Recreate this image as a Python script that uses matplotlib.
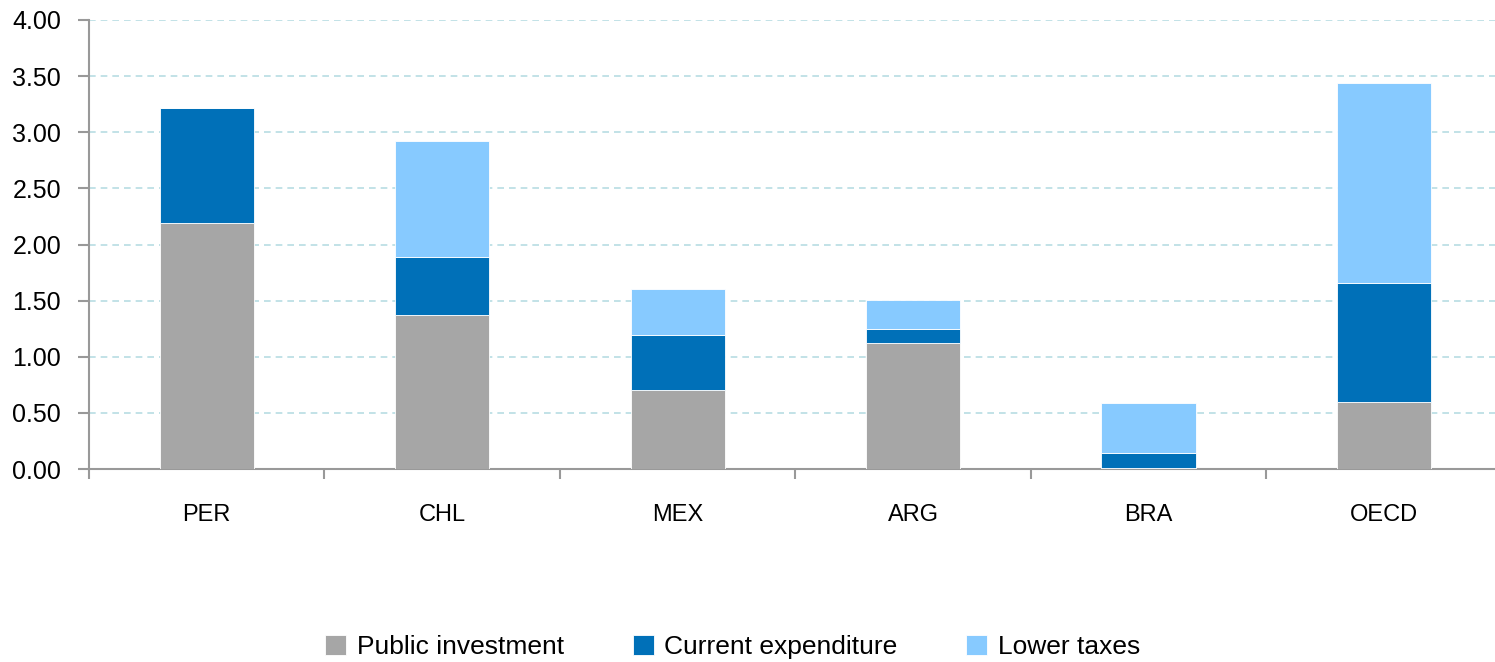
import numpy as np
import matplotlib.pyplot as plt
from matplotlib.ticker import MultipleLocator, FixedLocator

# =========================================================
# DATA
# =========================================================

countries = ["PER", "CHL", "MEX", "ARG", "BRA", "OECD"]
public_investment = [2.19, 1.37, 0.70, 1.12, 0.01, 0.60]
current_expenditure = [1.03, 0.52, 0.49, 0.13, 0.13, 1.06]
lower_taxes = [0.00, 1.03, 0.41, 0.26, 0.45, 1.78]

series_names = ["Public investment", "Current expenditure", "Lower taxes"]
colors = ["#a6a6a6", "#0070b8", "#87caff"]

# =========================================================
# FIGURE
# =========================================================

plt.rcParams["font.family"] = ["Liberation Sans", "DejaVu Sans"]

fig = plt.figure(figsize=(14.95, 6.62), dpi=100)
ax = fig.add_axes([0.0595, 0.2915, 0.945, 0.6783])

x = np.arange(len(countries))
bottom = np.zeros(len(countries))
for name, vals, col in zip(series_names,
                           [public_investment, current_expenditure, lower_taxes],
                           colors):
    ax.bar(x, vals, width=0.4, bottom=bottom, color=col, label=name,
           edgecolor="white", linewidth=0.6, zorder=3)
    bottom += np.array(vals)

ax.set_xlim(-0.5, len(countries) - 0.5)
ax.set_ylim(0, 4)
ax.yaxis.set_major_locator(MultipleLocator(0.5))
ax.yaxis.set_major_formatter(lambda v, p: f"{v:.2f}")
ax.grid(axis="y", color="#b7dde3", linestyle=(0, (4, 3)), linewidth=1.2, zorder=0)

ax.set_xticks(x)
ax.set_xticklabels(countries, fontsize=17)
ax.tick_params(axis="x", which="major", length=0, pad=25)
ax.xaxis.set_minor_locator(FixedLocator(np.arange(-0.5, len(countries), 1.0)))
ax.tick_params(axis="x", which="minor", length=7, color="#999999", width=1.5)
ax.tick_params(axis="y", labelsize=18, length=8, color="#999999", width=1.5, pad=12)

for s in ["top", "right"]:
    ax.spines[s].set_visible(False)
for s in ["left", "bottom"]:
    ax.spines[s].set_color("#999999")
    ax.spines[s].set_linewidth(1.5)

leg = fig.legend(loc="center", bbox_to_anchor=(0.49, 0.023), ncol=3, frameon=False,
                 prop={"size": 19},
                 handlelength=0.8, handleheight=0.8, handletextpad=0.4, columnspacing=2.6)

fig.savefig("out.png", dpi=100)
